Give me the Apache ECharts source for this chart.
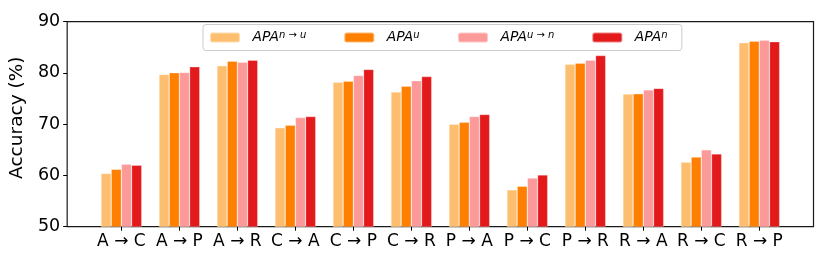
<!DOCTYPE html>
<html><head><meta charset="utf-8">
<script src="https://cdn.jsdelivr.net/npm/echarts@6/dist/echarts.min.js"></script>
<style>html,body{margin:0;padding:0;background:#fff}#c{width:830px;height:277px}</style>
</head><body><div id="c"></div>
<script>
const categories = ['A → C','A → P','A → R','C → A','C → P','C → R','P → A','P → C','P → R','R → A','R → C','R → P'];
const seriesNames = ['APA n→u','APA u','APA u→n','APA n'];
const seriesSup = ['n → u','u','u → n','n'];
const apaNtoU = [60.4,79.7,81.4,69.3,78.2,76.3,70.0,57.2,81.7,75.9,62.6,85.9];
const apaU    = [61.2,80.05,82.3,69.8,78.4,77.4,70.4,57.9,81.9,75.95,63.6,86.2];
const apaUtoN = [62.2,80.1,82.1,71.3,79.5,78.5,71.5,59.5,82.5,76.7,65.0,86.4];
const apaN    = [62.0,81.2,82.5,71.5,80.7,79.3,71.9,60.1,83.4,77.0,64.2,86.1];
const yTicks = [50,60,70,80,90];
const colors = ['#fdbf6f','#ff7f00','#fb9a99','#e31a1c'];
const allSeries = [apaNtoU, apaU, apaUtoN, apaN];

const font = 'DejaVu Sans';
const mainSize = 13.8, supSize = 10;
const ctx = document.createElement('canvas').getContext('2d');
function tw(t, size) { ctx.font = 'italic ' + size + 'px "' + font + '"'; return ctx.measureText(t).width; }
const legendWidths = [98.3, 77.7, 98.3, 42.7];
const spacer = 7.5;
const rich = {
  sp: {width: spacer, lineHeight: 14, fontSize: 10},
  m: {fontFamily: font, fontStyle: 'italic', fontSize: mainSize, lineHeight: 14, color: '#000'},
  s: {fontFamily: font, fontStyle: 'italic', fontSize: supSize, lineHeight: 14, verticalAlign: 'top', color: '#000'}
};
seriesSup.forEach((s, i) => {
  const w = legendWidths[i] - spacer - tw('APA', mainSize) - tw(s, supSize);
  rich['e' + i] = {width: Math.max(1, w), lineHeight: 14, fontSize: 10};
});

const chart = echarts.init(document.getElementById('c'), null, {renderer:'canvas'});
chart.setOption({
  animation: false,
  grid: {left: 66, right: 16.5, top: 21.7, bottom: 50.3, show: true, borderColor: '#1a1a1a', borderWidth: 1.2, containLabel: false},
  legend: {
    left: 203, top: 24.5, itemGap: 0, itemWidth: 30, itemHeight: 10,
    padding: [6, 11, 6, 6], borderColor: '#cccccc', borderWidth: 1, borderRadius: 3,
    backgroundColor: 'rgba(255,255,255,0.8)', selectedMode: false,
    data: seriesNames,
    formatter: function (name) {
      const i = seriesNames.indexOf(name);
      return '{sp| }{m|APA}{s|' + seriesSup[i] + '}{e' + i + '| }';
    },
    textStyle: {fontFamily: font, rich: rich}
  },
  xAxis: {
    type: 'value', min: -0.935, max: 11.935,
    splitLine: {show: false},
    axisLine: {show: false, onZero: false},
    axisTick: {show: true, length: 4, lineStyle: {color: '#000', width: 1}, customValues: categories.map((c, i) => i)},
    axisLabel: {customValues: categories.map((c, i) => i), formatter: v => categories[Math.round(v)],
      fontFamily: font, fontSize: 17, color: '#000', margin: 6.5}
  },
  yAxis: {
    type: 'value', min: yTicks[0], max: yTicks[yTicks.length - 1], interval: 10,
    splitLine: {show: false},
    axisLine: {show: false, onZero: false},
    axisTick: {show: true, length: 4, lineStyle: {color: '#000', width: 1}},
    axisLabel: {fontFamily: font, fontSize: 17.5, color: '#000', margin: 7},
    name: 'Accuracy (%)', nameLocation: 'middle', nameGap: 28, nameRotate: 90,
    nameTextStyle: {fontFamily: font, fontSize: 18.5, color: '#000', padding: [0, 0, 0, 13]}
  },
  series: allSeries.map((arr, k) => ({
    name: seriesNames[k], type: 'bar', barWidth: 10.2, barGap: '0%',
    itemStyle: {color: colors[k], borderColor: 'rgba(255,255,255,0.45)', borderWidth: 0.6},
    data: categories.map((c, i) => [i, arr[i]])
  }))
});
</script></body></html>
